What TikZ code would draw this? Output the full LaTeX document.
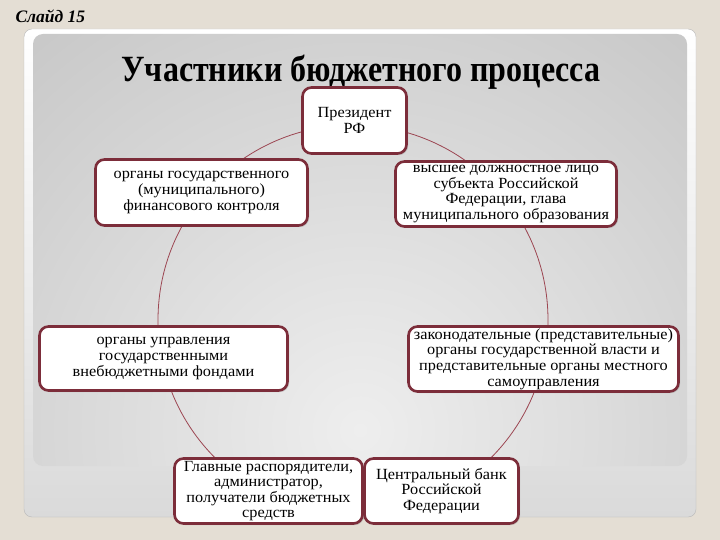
\documentclass[tikz,border=0pt]{standalone}
\usepackage{fontspec}
\setmainfont{Liberation Serif}
\newfontfamily\boxfont[FakeStretch=1.05]{Liberation Serif}
\usetikzlibrary{shadows}
\definecolor{slideBeige}{HTML}{E4DED4}
\definecolor{cardGray}{HTML}{DADADA}
\definecolor{panelDark}{HTML}{A6A6A6}
\definecolor{panelLight}{HTML}{EEEEEE}
\definecolor{boxRed}{HTML}{7C2D3A}
\definecolor{ringRed}{HTML}{9C4652}

\begin{document}
\begin{tikzpicture}[x=1pt, y=-1pt,
    member/.style={fill=white, draw=boxRed, line width=2.6pt, rounded corners=9pt,
      align=center, inner sep=1pt, font=\boxfont\fontsize{15.5}{15.6}\selectfont,
      drop shadow={shadow xshift=1.5pt, shadow yshift=-1.5pt, opacity=0.35}},
    ring/.style={draw=ringRed, line width=0.8pt}]
  % slide background and frame
  \fill[slideBeige] (0,0) rectangle (720,540);
  \useasboundingbox (0,0) rectangle (720,540);
  \shade[top color=white, bottom color=cardGray, draw=gray!55, rounded corners=8pt]
    (24,29) rectangle (696,517);
  \begin{scope}
    \clip[rounded corners=10pt] (33,34) rectangle (687,466);
    \shade[inner color=panelLight, outer color=panelDark] (360,430) circle (980);
  \end{scope}
  \node[font=\fontsize{17.5}{17.5}\selectfont\bfseries\itshape, anchor=west]
    (slide) at (12,16) {Слайд 15};
  \node[font=\fontsize{37}{37}\selectfont\bfseries] (title) at (361,72)
    {\scalebox{0.865}[1]{Участники бюджетного процесса}};

  % ring of participants
  \coordinate (hub) at (353,320);
  \draw[ring] (hub) circle (195);

  \node[member, minimum width=104pt, minimum height=66pt] (pres) at (354.5,120.5)
    {Президент\\РФ};
  \node[member, minimum width=212pt, minimum height=66pt] (control) at (201.5,192.5)
    {органы государственного\\(муниципального)\\финансового контроля};
  \node[member, minimum width=221pt, minimum height=65pt] (head) at (506,194)
    {высшее должностное лицо\\субъекта Российской\\Федерации, глава\\муниципального образования};
  \node[member, minimum width=248pt, minimum height=64pt] (funds) at (163.5,358.5)
    {органы управления\\государственными\\внебюджетными фондами};
  \node[member, minimum width=270pt, minimum height=65pt] (legis) at (543.5,359)
    {законодательные (представительные)\\органы государственной власти и\\представительные органы местного\\самоуправления};
  \node[member, minimum width=188pt, minimum height=65pt] (admin) at (268.5,491)
    {Главные распорядители,\\администратор,\\получатели бюджетных\\средств};
  \node[member, minimum width=154pt, minimum height=65pt] (bank) at (441.5,491)
    {Центральный банк\\Российской\\Федерации};
\end{tikzpicture}
\end{document}
